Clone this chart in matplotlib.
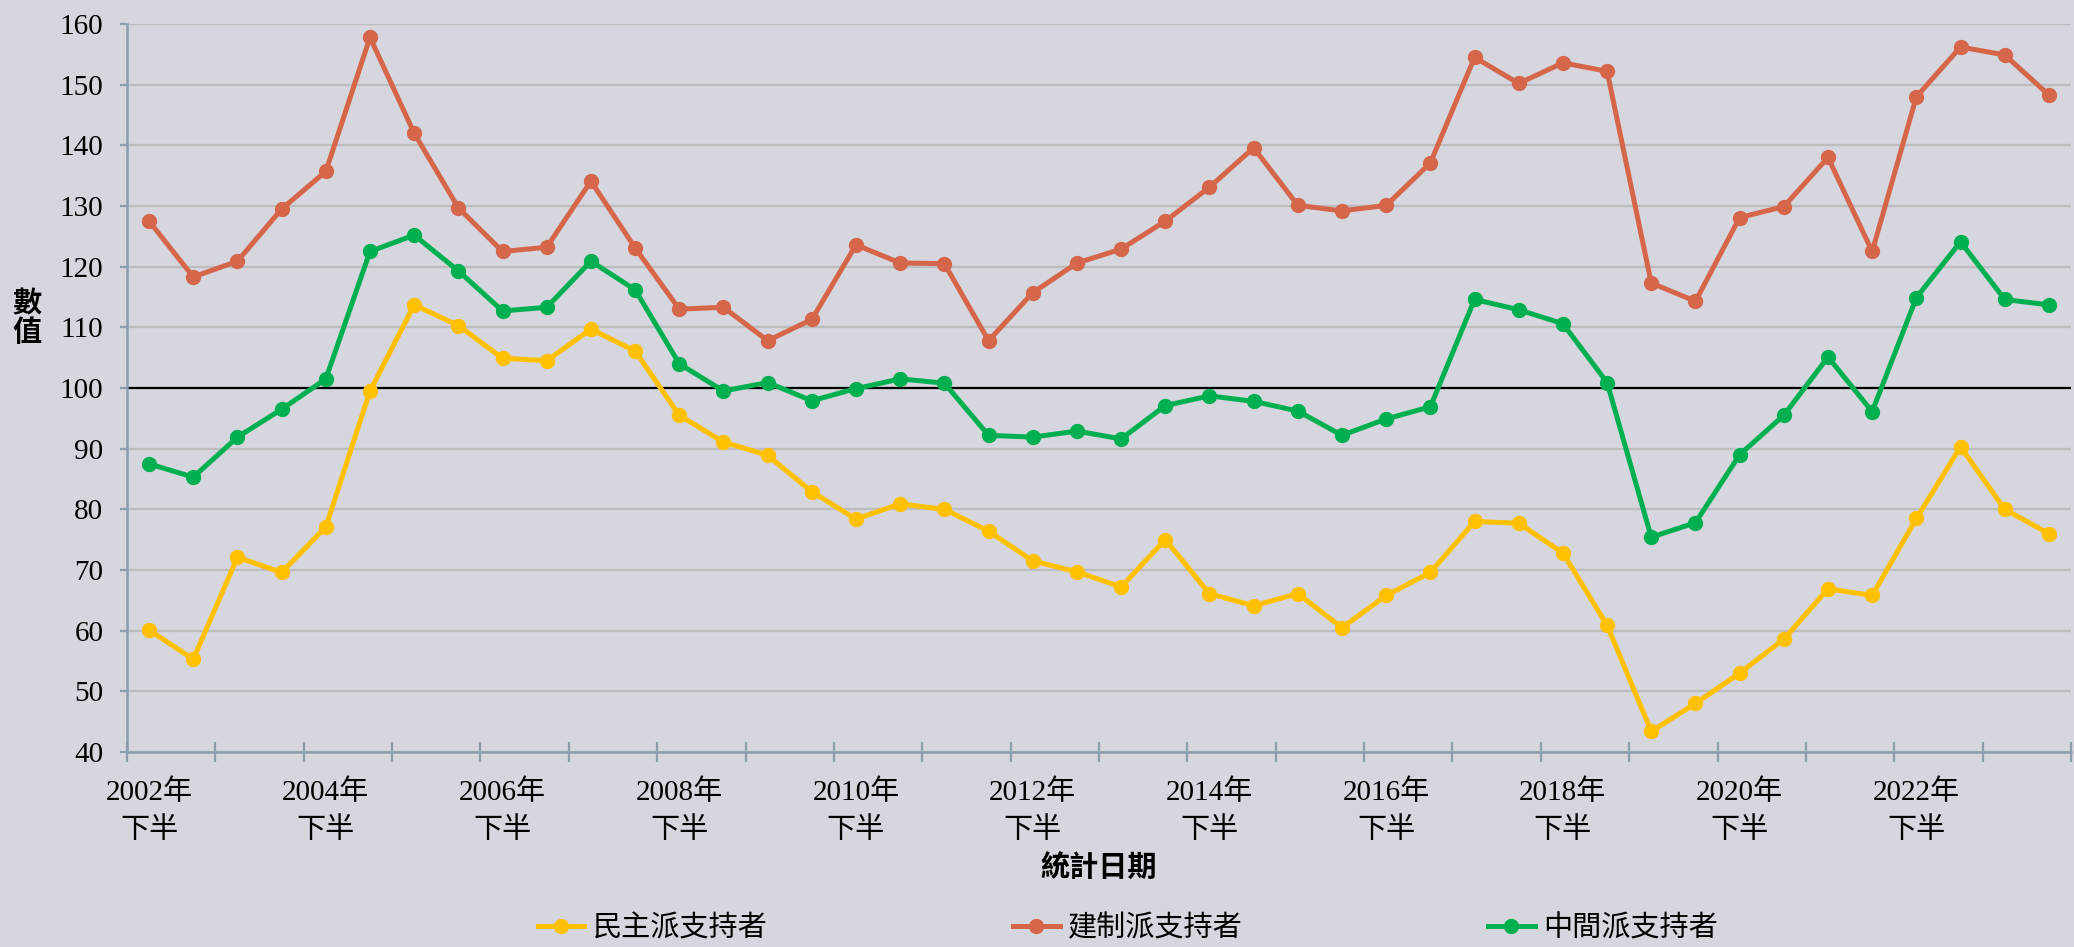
import numpy as np
import matplotlib
matplotlib.use('Agg')
import matplotlib.pyplot as plt
from matplotlib.ticker import FixedLocator

# ---------------- data ----------------
series_names = ['民主派支持者', '建制派支持者', '中間派支持者']

tick_labels = ['2002年\n下半', '2004年\n下半', '2006年\n下半', '2008年\n下半',
               '2010年\n下半', '2012年\n下半', '2014年\n下半', '2016年\n下半',
               '2018年\n下半', '2020年\n下半', '2022年\n下半']

democrats = [60.1, 55.3, 72.1, 69.6, 77.1, 99.5, 113.7, 110.3, 104.9, 104.5, 109.7,
             106.1, 95.5, 91.1, 88.9, 82.9, 78.4, 80.9, 80.0, 76.4, 71.5, 69.7,
             67.2, 75.0, 66.1, 64.1, 66.1, 60.5, 65.8, 69.6, 78.0, 77.7, 72.8,
             60.9, 43.4, 48.0, 53.0, 58.6, 66.9, 65.8, 78.5, 90.3, 80.0, 76.0]

establishment = [127.5, 118.3, 120.9, 129.5, 135.7, 157.8, 142.0, 129.7, 122.5, 123.2, 134.1,
                 123.1, 113.0, 113.3, 107.8, 111.3, 123.6, 120.6, 120.5, 107.8, 115.7, 120.6,
                 122.9, 127.5, 133.1, 139.6, 130.1, 129.2, 130.1, 137.1, 154.5, 150.2, 153.6,
                 152.2, 117.3, 114.3, 128.1, 129.9, 138.0, 122.5, 148.0, 156.2, 154.9, 148.3]

centrists = [87.5, 85.3, 91.9, 96.5, 101.5, 122.5, 125.2, 119.3, 112.7, 113.3, 120.9,
             116.2, 104.0, 99.5, 100.9, 97.9, 99.9, 101.5, 100.8, 92.2, 91.9, 92.9,
             91.6, 97.1, 98.7, 97.8, 96.2, 92.2, 94.9, 96.9, 114.6, 112.9, 110.6,
             100.9, 75.4, 77.8, 89.0, 95.5, 105.1, 96.1, 114.9, 124.1, 114.6, 113.7]

reference_level = 100
y_ticks = [40, 50, 60, 70, 80, 90, 100, 110, 120, 130, 140, 150, 160]

# ---------------- style ----------------
BG = '#D5D6DE'
GRID = '#BDBDBD'
AXC = '#8A9FAC'
COLORS = ['#FFC000', '#D5664A', '#00B050']

plt.rcParams['font.family'] = ['Liberation Serif', 'Noto Sans CJK TC']
CJK = ['Noto Sans CJK TC']

W, H = 2074, 947
fig = plt.figure(figsize=(W / 100, H / 100), dpi=100, facecolor=BG)
ax = fig.add_axes([127 / W, 1 - 752 / H, (2071 - 127) / W, (752 - 24) / H])
ax.set_facecolor(BG)

x = np.arange(len(democrats))
handles = []
for vals, color, name in zip([democrats, establishment, centrists], COLORS, series_names):
    h, = ax.plot(x, vals, color=color, lw=3.6, marker='o', ms=10,
                 label=name, solid_joinstyle='round', zorder=3, clip_on=False)
    handles.append(h)

ax.axhline(reference_level, color='black', lw=1.6, zorder=2.5)

ax.set_xlim(-0.5, len(democrats) - 0.5)
ax.set_ylim(y_ticks[0], y_ticks[-1])
ax.set_yticks(y_ticks)
ax.yaxis.grid(True, color=GRID, lw=1.6)
ax.set_axisbelow(True)

for s in ['top', 'right']:
    ax.spines[s].set_visible(False)
for s in ['left', 'bottom']:
    ax.spines[s].set_color(AXC)
    ax.spines[s].set_linewidth(1.8)

ax.xaxis.set_major_locator(FixedLocator(np.arange(-0.5, len(democrats), 2)))
ax.set_xticks(np.arange(0, len(democrats), 4)[:len(tick_labels)], minor=True)
ax.set_xticklabels(tick_labels, minor=True)
ax.tick_params(axis='x', which='major', direction='inout', length=15, width=1.6,
               color=AXC, labelbottom=False)
ax.tick_params(axis='x', which='minor', length=0, pad=20, labelsize=21)
ax.tick_params(axis='y', direction='out', length=5, width=1.6, color=AXC,
               labelsize=21, pad=12)
for t in ax.get_xticklabels(minor=True):
    t.set_linespacing(1.5)

fig.text(1099 / W, 1 - 868 / H, '統計日期', ha='center', va='center',
         fontsize=21, fontweight='bold', family=CJK)
fig.text(27 / W, 1 - 318 / H, '數\n值', ha='center', va='center',
         fontsize=21, fontweight='bold', family=CJK, linespacing=0.95)

fig.legend(handles=handles, loc='center', bbox_to_anchor=(1128 / W, 1 - 928 / H),
           ncol=3, frameon=False, prop={'family': CJK, 'size': 21},
           handlelength=1.6, handletextpad=0.3, columnspacing=8.4)

fig.savefig('out.png', dpi=100, facecolor=BG)
